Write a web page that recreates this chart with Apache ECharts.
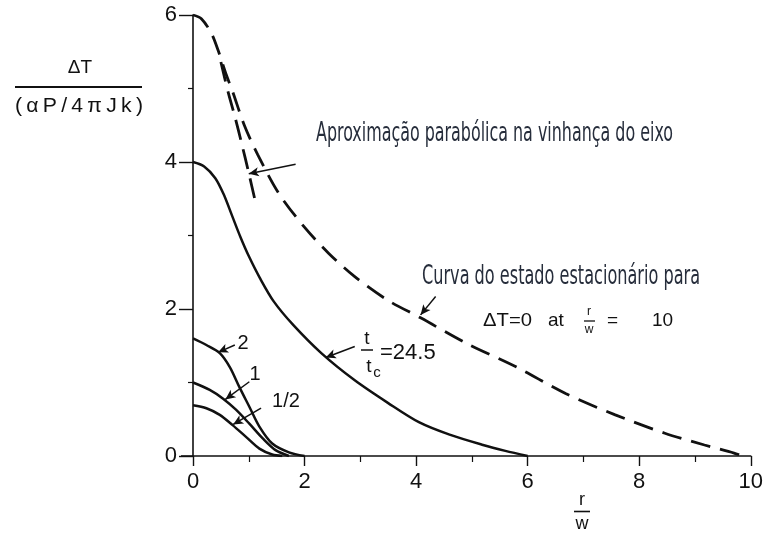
<!DOCTYPE html>
<html>
<head>
<meta charset="utf-8">
<script src="https://cdn.jsdelivr.net/npm/echarts@6/dist/echarts.min.js"></script>
<style>
  html, body { margin: 0; padding: 0; background: #ffffff; }
  #chart { width: 766px; height: 536px; }
</style>
</head>
<body>
<div id="chart"></div>
<script>
// Steady-state temperature profile (ΔT = 0 at r/w = 10)
const steadyR = [0, 0.15, 0.33, 0.45, 0.60, 0.71, 0.92, 1.16, 1.54, 1.99, 2.43, 2.90, 3.49, 4.08, 4.91, 5.80, 6.68, 7.57, 8.46, 9.17, 9.70, 9.85];
const steadyT = [6.00, 5.95, 5.75, 5.52, 5.18, 4.96, 4.50, 4.10, 3.57, 3.12, 2.76, 2.44, 2.12, 1.88, 1.53, 1.21, 0.85, 0.56, 0.31, 0.15, 0.04, 0];

// Parabolic approximation close to the axis
const paraR = [0.50, 0.63, 0.75, 0.87, 1.00, 1.13];
const paraT = [5.36, 4.95, 4.62, 4.26, 3.85, 3.42];

// Transient profiles for t/tc = 24.5, 2, 1 and 1/2
const r245 = [0, 0.20, 0.40, 0.55, 0.70, 0.85, 1.00, 1.20, 1.45, 1.80, 2.30, 2.90, 3.50, 4.05, 4.60, 5.20, 5.60, 6.00];
const t245 = [4.00, 3.94, 3.78, 3.56, 3.27, 2.98, 2.72, 2.42, 2.10, 1.78, 1.40, 1.03, 0.72, 0.46, 0.29, 0.15, 0.07, 0];

const r2 = [0, 0.24, 0.48, 0.66, 0.83, 1.01, 1.19, 1.42, 1.72, 2.00];
const t2 = [1.60, 1.51, 1.40, 1.21, 0.94, 0.67, 0.40, 0.17, 0.05, 0];

const r1 = [0, 0.30, 0.54, 0.77, 1.01, 1.25, 1.48, 1.72];
const t1 = [1.00, 0.90, 0.78, 0.63, 0.44, 0.24, 0.08, 0];

const rHalf = [0, 0.24, 0.48, 0.71, 0.95, 1.19, 1.42, 1.60];
const tHalf = [0.69, 0.65, 0.56, 0.42, 0.26, 0.10, 0.02, 0];

// Axis ranges
const xRange = [0, 10];
const yRange = [0, 6];

// Leader arrows: [from, to] in (r/w, ΔT) units
const leaders = [
  [[1.84, 3.97], [1.00, 3.84]],
  [[4.35, 2.17], [4.08, 1.92]],
  [[2.90, 1.49], [2.38, 1.34]],
  [[0.75, 1.51], [0.45, 1.41]],
  [[1.01, 1.01], [0.58, 0.77]],
  [[1.22, 0.65], [0.72, 0.43]]
];

const zip = (a, b) => a.map((v, i) => [v, b[i]]);

const INK = '#111111';
const NOTE_INK = '#262d3b';
const LEROY = '"Liberation Sans", Arial, sans-serif';
const NARROW = '"Liberation Sans Narrow", "DejaVu Sans Condensed", sans-serif';

const measureCtx = document.createElement('canvas').getContext('2d');
function widthOf(str, font) {
  measureCtx.font = font;
  return measureCtx.measureText(str).width;
}

// Text placed at a left edge, squeezed horizontally to a given width
function fittedText(str, left, cy, width, size, family, color) {
  const font = size + 'px ' + family;
  return {
    type: 'text', x: left, y: cy, scaleX: width / widthOf(str, font), z: 10, silent: true,
    style: { text: str, font: font, fill: color, align: 'left', verticalAlign: 'middle',
             textAlign: 'left', textVerticalAlign: 'middle' }
  };
}
function centeredText(str, cx, cy, size, family, color) {
  const font = size + 'px ' + family;
  return {
    type: 'text', x: cx, y: cy, z: 10, silent: true,
    style: { text: str, font: font, fill: color || INK, align: 'center', verticalAlign: 'middle',
             textAlign: 'center', textVerticalAlign: 'middle' }
  };
}
function leftText(str, left, cy, size, family) {
  const font = size + 'px ' + family;
  return {
    type: 'text', x: left, y: cy, z: 10, silent: true,
    style: { text: str, font: font, fill: INK, align: 'left', verticalAlign: 'middle',
             textAlign: 'left', textVerticalAlign: 'middle' }
  };
}
function rule(x1, x2, y, w) {
  return { type: 'line', z: 10, silent: true, shape: { x1: x1, y1: y, x2: x2, y2: y },
           style: { stroke: INK, lineWidth: w || 1.5 } };
}

function curve(name, r, t, dashed) {
  return {
    type: 'line', name: name, data: zip(r, t), showSymbol: false, symbol: 'none',
    smooth: 0.3, silent: true, animation: false, z: 3,
    lineStyle: { color: INK, width: dashed ? 2.8 : 2.5, type: dashed ? [20, 10] : 'solid', cap: 'butt' }
  };
}

const steady = curve('steady', steadyR, steadyT, true);
steady.markLine = {
  silent: true, animation: false, symbol: ['none', 'arrow'], symbolSize: [7, 10],
  label: { show: false },
  lineStyle: { color: INK, width: 1.5, type: 'solid' },
  data: leaders.map(l => [{ coord: l[0] }, { coord: l[1] }])
};

const graphics = [
  // vertical axis title
  centeredText('ΔT', 80, 68, 19, LEROY),
  rule(15, 142, 87, 1.8),
  fittedText('(\u2009α\u2009P\u2009/\u20094\u2009π\u2009J\u2009k\u2009)', 15, 106, 128, 21, LEROY, INK),
  // horizontal axis title
  centeredText('r', 582, 500, 18, LEROY),
  rule(574, 590, 511.5, 1.6),
  centeredText('w', 582, 524, 18, LEROY),
  // axis line running a little past the origin
  rule(181, 193, 456, 1.6),
  // curve labels
  centeredText('2', 243, 343, 20, LEROY),
  centeredText('1', 255, 374, 20, LEROY),
  centeredText('1/2', 286, 401, 20, LEROY),
  centeredText('t', 367, 339, 19, LEROY),
  rule(361, 373, 350, 1.5),
  centeredText('t', 369, 367, 19, LEROY),
  centeredText('c', 377, 373, 15, LEROY),
  leftText('=24.5', 380, 353, 22, LEROY),
  // steady-state condition
  fittedText('ΔT=0', 483, 321, 49, 19, LEROY, INK),
  leftText('at', 548, 321, 19, LEROY),
  centeredText('r', 589, 312, 12, LEROY),
  rule(584, 595, 321, 1.3),
  centeredText('w', 589, 330, 12, LEROY),
  leftText('=', 607, 321, 19, LEROY),
  leftText('10', 652, 321, 19, LEROY),
  // notes
  fittedText('Aproximação parabólica na vinhança do eixo', 316, 134, 357, 27, NARROW, NOTE_INK),
  fittedText('Curva do estado estacionário para', 422, 277, 278, 27, NARROW, NOTE_INK)
];

const chart = echarts.init(document.getElementById('chart'), null, { renderer: 'canvas' });
chart.setOption({
  backgroundColor: '#ffffff',
  animation: false,
  grid: { left: 193, right: 9, top: 15, bottom: 80, containLabel: false },
  xAxis: {
    type: 'value', min: xRange[0], max: xRange[1], interval: 2,
    axisLine: { show: true, onZero: false, lineStyle: { color: INK, width: 1.6 } },
    axisTick: { show: true, inside: false, length: 10, lineStyle: { color: INK, width: 1.4 } },
    minorTick: { show: true, splitNumber: 2, length: 6, lineStyle: { color: INK, width: 1.2 } },
    axisLabel: { margin: 15, color: INK, fontSize: 22, fontFamily: LEROY },
    splitLine: { show: false }
  },
  yAxis: {
    type: 'value', min: yRange[0], max: yRange[1], interval: 2,
    axisLine: { show: true, onZero: false, lineStyle: { color: INK, width: 1.6 } },
    axisTick: { show: true, inside: false, length: 14, lineStyle: { color: INK, width: 1.4 } },
    minorTick: { show: true, splitNumber: 2, length: 5, lineStyle: { color: INK, width: 1.2 } },
    axisLabel: { margin: 16, color: INK, fontSize: 22, fontFamily: LEROY },
    splitLine: { show: false }
  },
  series: [
    steady,
    curve('parabolic', paraR, paraT, true),
    curve('t/tc = 24.5', r245, t245, false),
    curve('t/tc = 2', r2, t2, false),
    curve('t/tc = 1', r1, t1, false),
    curve('t/tc = 1/2', rHalf, tHalf, false)
  ],
  graphic: graphics
});
</script>
</body>
</html>
